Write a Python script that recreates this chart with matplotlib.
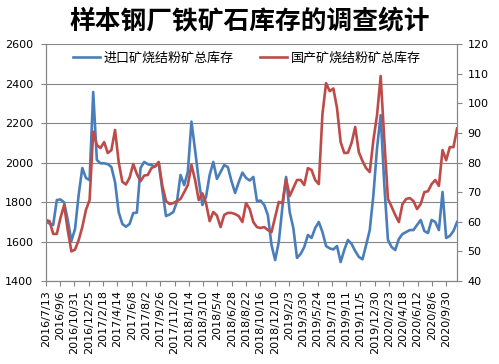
import matplotlib
matplotlib.use("Agg")
import matplotlib.pyplot as plt
import pandas as pd

plt.rcParams['font.family'] = ['DejaVu Sans', 'Noto Sans CJK SC']

# 调查日期（两周一次）
dates = pd.date_range('2016-07-13', periods=114, freq='14D')

# 进口矿烧结粉矿总库存（左轴）
jinkou = [1700, 1691, 1684, 1810, 1813, 1798, 1709, 1603, 1663, 1836,
          1972, 1922, 1911, 2357, 2013, 1996, 1996, 1992, 1977, 1901,
          1749, 1689, 1675, 1689, 1744, 1746, 1972, 2003, 1992, 1987,
          1979, 1997, 1861, 1729, 1737, 1749, 1800, 1937, 1886, 1952,
          2207, 2063, 1911, 1785, 1825, 1937, 2003, 1917, 1952, 1987,
          1977, 1906, 1846, 1901, 1949, 1922, 1909, 1927, 1805, 1807,
          1785, 1734, 1582, 1506, 1598, 1775, 1927, 1749, 1668, 1517,
          1537, 1572, 1633, 1618, 1668, 1699, 1648, 1577, 1565, 1560,
          1577, 1496, 1557, 1608, 1588, 1552, 1522, 1510, 1582, 1658,
          1835, 2073, 2240, 1886, 1608, 1572, 1557, 1613, 1638, 1648,
          1658, 1658, 1684, 1709, 1653, 1643, 1709, 1699, 1658, 1851,
          1618, 1628, 1653, 1699]

# 国产矿烧结粉矿总库存（右轴）
guochan = [60.6, 60.2, 55.9, 55.9, 61.3, 65.6, 57.2, 50.0, 50.6, 53.8,
           58.2, 64.0, 67.3, 90.4, 85.9, 84.9, 86.9, 83.2, 84.2, 91.0,
           80.2, 73.5, 72.6, 74.9, 79.5, 76.1, 73.7, 75.6, 75.8, 78.1,
           78.8, 80.2, 72.1, 67.0, 66.0, 66.3, 67.0, 67.7, 70.0, 72.4,
           79.2, 74.1, 67.3, 69.6, 66.3, 60.2, 63.3, 62.1, 58.2, 62.3,
           63.0, 63.0, 62.6, 61.9, 59.9, 66.3, 64.3, 59.9, 58.2, 57.9,
           58.2, 57.2, 56.5, 61.6, 66.7, 66.3, 74.4, 68.7, 71.4, 74.1,
           74.1, 72.4, 78.1, 77.5, 74.1, 72.7, 96.4, 106.8, 104.1, 105.0,
           98.4, 86.9, 83.2, 83.3, 86.6, 92.0, 83.5, 80.5, 78.1, 76.8,
           87.6, 96.0, 109.2, 87.6, 67.7, 65.1, 62.3, 59.9, 66.0, 67.7,
           68.0, 67.0, 64.3, 66.0, 70.0, 70.3, 72.7, 74.1, 72.1, 84.2,
           80.8, 85.2, 85.2, 91.5]

xticks = pd.date_range('2016-07-13', periods=29, freq='55D')
xlabels = [f"{d.year}/{d.month}/{d.day}" for d in xticks]

cjk = ['Noto Sans CJK SC', 'DejaVu Sans']
grey = '#868686'

fig = plt.figure(figsize=(4.99, 3.64), dpi=100)
ax = fig.add_axes([0.092, 0.228, 0.824, 0.651])
ax2 = ax.twinx()

l1, = ax.plot(dates, jinkou, color='#4A7EBB', lw=1.9, label='进口矿烧结粉矿总库存')
l2, = ax2.plot(dates, guochan, color='#BE4B48', lw=1.9, label='国产矿烧结粉矿总库存')

ax.set_xlim(dates[0], dates[-1])
ax.set_ylim(1400, 2600)
ax.set_yticks(range(1400, 2601, 200))
ax2.set_ylim(40, 120)
ax2.set_yticks(range(40, 121, 10))

ax.set_xticks(xticks)
ax.set_xticklabels(xlabels, rotation=90)
ax.grid(axis='y', color=grey, lw=0.8)
ax.set_axisbelow(True)

for a in (ax, ax2):
    a.spines['top'].set_visible(False)
    for s in ('left', 'right', 'bottom'):
        a.spines[s].set_color(grey)
        a.spines[s].set_linewidth(0.8)
    a.tick_params(colors=grey, labelcolor='black', labelsize=8, length=3.5, width=0.8)
ax.tick_params(axis='y', pad=5.5)
ax.tick_params(axis='x', pad=3)
ax2.tick_params(axis='y', pad=4)

ax.legend(handles=[l1, l2], loc='center left', bbox_to_anchor=(0.066, 0.941),
          ncol=2, frameon=False, borderpad=0, borderaxespad=0,
          handlelength=2.1, handletextpad=0.25, columnspacing=2.0,
          prop={'family': cjk, 'size': 9.4})

fig.text(0.5, 0.94, '样本钢厂铁矿石库存的调查统计', ha='center', va='center',
         fontsize=18.5, fontweight='bold', family=cjk)

fig.savefig('out.png', dpi=100)
